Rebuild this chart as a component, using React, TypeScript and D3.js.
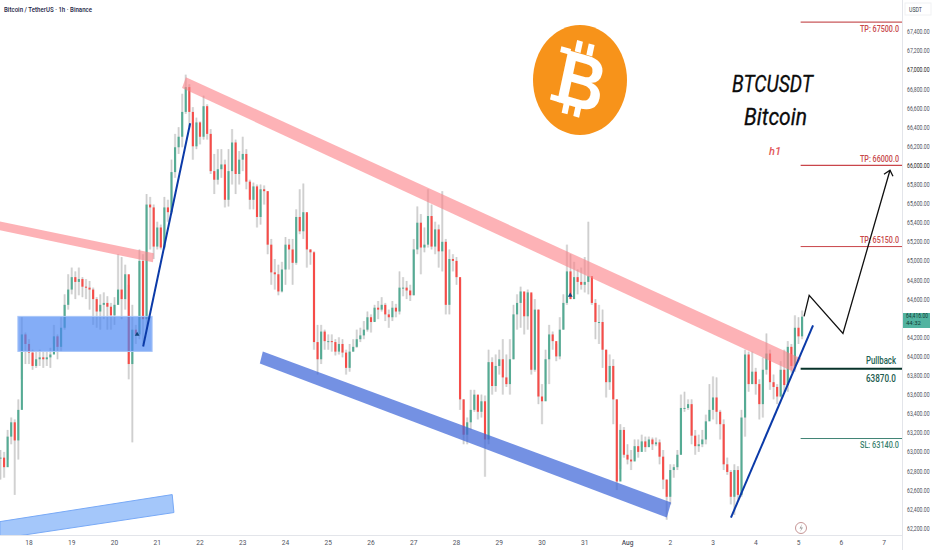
import React from "react";
import * as d3 from "d3";

const W = 932, H = 550, AXIS_X = 902, AXIS_Y = 535;

// 2-hour candles, first bar on Jul 17 08:00-ish (day number 18 - 16/24)
const closes = [
62940,62840,63160,63310,63120,63440,64230,64130,64040,63900,
63970,63990,63970,63990,64020,64210,64100,64300,64540,64700,
64830,64780,64810,64730,64720,64700,64600,64470,64540,64560,
64520,64430,64540,64700,64600,64860,63920,64280,64230,65000,
64390,65590,65560,65150,65350,65140,65560,65510,65930,66190,
66300,66560,66820,66560,66200,66450,66300,66620,66330,65940,
65850,65960,66010,65640,65940,66240,65910,66060,66120,65830,
65640,65780,65460,65750,65730,65170,64880,64860,64680,64910,
65170,65120,64980,65460,65310,65510,65120,65090,64150,63970,
64260,64160,64160,64150,64050,64130,64040,63880,64050,64100,
64180,64220,64280,64410,64360,64510,64490,64540,64440,64410,
64510,64470,64720,64720,64690,64640,65120,65400,65140,65170,
65470,65150,65330,65100,65200,64540,65020,65000,64830,63550,
63180,63310,63440,63600,63420,63530,63130,63940,63690,63900,
63970,63780,63710,63970,64440,64560,64680,64420,64670,63860,
64490,63580,63530,63970,64230,64160,64000,64280,64560,64890,
64600,64830,64780,64750,64780,64840,64560,64360,64360,64070,
63730,63900,63550,62690,63230,62970,62920,62900,63060,63000,
63110,63050,63130,63080,63100,62950,62710,62530,62810,62840,
62970,63460,63460,63500,63170,63060,63080,63130,63320,63440,
63570,63420,63290,62870,62790,62530,62810,62550,63360,64020,
63710,63840,63710,63500,63860,64030,63730,63680,63580,63860,
63700,64100,63900,64300,64210,64416];

const highs = [
63020,63000,63230,63360,63340,63550,64410,64250,64180,64070,
64050,64070,64050,64050,64090,64330,64230,64410,64650,64860,
64930,64890,64930,64830,64810,64790,64720,64620,64650,64670,
64630,64560,64620,65070,65040,64960,64750,64540,64330,65120,
65070,65700,65670,65590,65410,65380,65670,65640,66060,66330,
66400,66750,66950,66850,66610,66500,66460,66730,66640,66380,
66120,66170,66170,66060,66170,66380,66270,66150,66300,66170,
65850,65820,65800,65800,65790,65730,65230,65020,64960,64990,
65250,65230,65230,65540,65750,65810,65490,65120,65100,64330,
64330,64280,64230,64230,64180,64200,64180,64070,64130,64180,
64280,64300,64370,64470,64440,64540,64580,64620,64560,64490,
64580,64550,64890,64830,64790,64750,65230,65570,65490,65350,
65750,65590,65410,65380,65730,65230,65120,65070,65040,64810,
63550,63360,63650,63650,63580,63600,63590,64070,63990,64020,
64070,64180,64020,64180,64540,64650,64730,64600,64700,64650,
64600,64490,63710,64070,64330,64260,64130,64410,64650,65170,
65070,64990,64910,64930,65040,65410,64840,64600,64540,64490,
64070,64020,63970,63550,63290,63260,63080,63020,63130,63130,
63180,63160,63160,63150,63150,63130,63020,62710,62870,62870,
63020,63600,63630,63550,63550,63230,63180,63230,63390,63710,
63790,63780,63440,63340,62940,62810,62870,62850,63440,64070,
64050,64050,63880,63760,63990,64240,64070,63810,63710,63950,
64070,64160,64130,64430,64410,64480];

const lows = [
62710,62730,62920,63080,62550,62920,63760,63920,63920,63860,
63880,63900,63880,63900,63880,64130,63970,64050,64280,64490,
64650,64600,64640,64620,64600,64490,64330,64300,64280,64390,
64280,64280,64330,64540,64390,64490,63760,63100,64130,64180,
64130,64280,65120,65020,65120,65120,65120,65410,65490,65870,
66120,66190,66540,66400,66060,66170,66220,66270,66270,65910,
65700,65800,65870,65560,65570,65800,65700,65800,65940,65750,
65540,65540,65350,65380,65590,65070,64750,64700,64640,64670,
64750,64910,64750,64960,65280,65230,64930,64960,64070,63810,
63920,64070,64070,64050,64010,64020,63990,63810,63840,64050,
64090,64150,64180,64260,64250,64370,64390,64470,64370,64300,
64370,64410,64440,64630,64600,64580,64640,65070,64860,65090,
65140,65120,65070,64930,64890,64440,64440,64890,64750,63440,
63080,63080,63230,63420,63340,63360,62740,63080,63600,63630,
63810,63600,63680,63600,63970,64280,64300,64230,64280,63810,
63840,63500,63290,63710,63710,64070,63950,63970,64280,64540,
64600,64680,64650,64700,64670,64650,64540,64180,64130,63880,
63570,63650,63290,62600,62820,62940,62870,62810,62920,62940,
63050,63000,63050,63020,63060,62870,62610,62290,62450,62730,
62810,62970,63420,63440,63080,62970,63000,63050,63080,63340,
63340,63290,63130,62810,62760,62450,62340,62500,62530,63160,
63630,63710,63600,63340,63360,63810,63650,63550,63500,63570,
63630,63630,63830,63840,64130,64180];

const firstDay = 18 - 16 / 24;
const barStep = 2 / 24;
const dayLabels = ["18","19","20","21","22","23","24","25","26","27","28","29","30","31","Aug","2","3","4","5","6","7"];
const priceTicks = d3.range(62200, 67401, 200).filter(p => p !== 64400);

const bandLong: [number, number][] = [[21.67,66924],[36.06,63979],[35.87,63842],[21.58,66810]];
const bandShort: [number, number][] = [[17.32,65414],[20.92,65079],[20.90,64985],[17.32,65320]];
const bandLower: [number, number][] = [[23.47,64052],[33.02,62470],[32.92,62312],[23.40,63926]];
const bandBottom: [number, number][] = [[17.32,62270],[21.35,62553],[21.39,62365],[17.32,62092]];
const zone = { d0: 17.74, d1: 20.88, p0: 64052, p1: 64419 };
const riseA: [number, number][] = [[20.67,64104],[21.77,66441]];
const riseB: [number, number][] = [[34.42,62312],[36.34,64325]];
const projection: [number, number][] = [[36.13,64419],[36.25,64639],[37.04,64241],[38.14,65949]];
const arrowHead: [number, number][] = [[38.0,65907],[38.14,65949],[38.21,65886]];
const markers: [number, number][] = [[20.53,64230],[30.66,64640]];
const levelStart = 36.05;
const levels = [
  { price: 67500, label: "TP: 67500.0", color: "#c9595b", w: 1.3, textColor: "#c8484a" },
  { price: 66000, label: "TP: 66000.0", color: "#c9454a", w: 1.3, textColor: "#c8484a" },
  { price: 65150, label: "TP: 65150.0", color: "#c9454a", w: 1, textColor: "#c8484a" },
  { price: 63140, label: "SL: 63140.0", color: "#3f8474", w: 1, textColor: "#3a7f6e" },
];
const pullback = 63870;
const lastPrice = 64416;

const GREEN = "#55ab94", RED = "#f64c48";
const FONT = "Roboto, 'Liberation Sans', sans-serif";

export default function App() {
  const x = d3.scaleLinear().domain([18, 25]).range([29, 29 + 7 * 42.75]);
  const y = d3.scaleLinear().domain([62200, 67400]).range([528.3, 31.7]);
  const pts = (a: [number, number][]) => a.map(([d, p]) => `${x(d)},${y(p)}`).join(" ");
  const line = d3.line<[number, number]>().x(d => x(d[0])).y(d => y(d[1]));
  const tri = d3.symbol().type(d3.symbolTriangle).size(10)() as string;
  const bw = 2.1;

  return (
    <svg width={W} height={H} viewBox={`0 0 ${W} ${H}`} style={{ position: "absolute", left: 0, top: 0, display: "block", background: "#fff" }}>
      <defs>
        <clipPath id="pane"><rect x={0} y={0} width={AXIS_X} height={AXIS_Y} /></clipPath>
      </defs>

      <g clipPath="url(#pane)">
        {closes.map((c, i) => {
          const cx = x(firstDay + i * barStep);
          return <line key={i} x1={cx} x2={cx} y1={y(highs[i]) } y2={y(lows[i])} stroke="#e4e4e4" strokeWidth={2.4} />;
        })}
        {closes.map((c, i) => {
          const cx = x(firstDay + i * barStep);
          return <line key={i} x1={cx} x2={cx} y1={y(highs[i])} y2={y(lows[i])} stroke="#bababa" strokeWidth={0.6} />;
        })}
        {closes.map((c, i) => {
          const o = i === 0 ? c : closes[i - 1];
          const cx = x(firstDay + i * barStep);
          const top = y(Math.max(o, c)), bot = y(Math.min(o, c));
          return <rect key={i} x={cx - bw / 2} y={top} width={bw} height={Math.max(1, bot - top)} fill={c >= o ? GREEN : RED} />;
        })}

        <polygon points={pts(bandLong)} fill="#fb7f86" fillOpacity={0.6} />
        <polygon points={pts(bandShort)} fill="#fb7f86" fillOpacity={0.6} />
        <rect x={x(zone.d0)} y={y(zone.p1)} width={x(zone.d1) - x(zone.d0)} height={y(zone.p0) - y(zone.p1)} fill="#4a86f3" fillOpacity={0.68} stroke="#a9c6f8" strokeWidth={1} />
        <polygon points={pts(bandLower)} fill="#3f66d8" fillOpacity={0.72} />
        <polygon points={pts(bandBottom)} fill="#a4c7fa" stroke="#78a9f6" strokeWidth={1} />

        <path d={line(riseA) as string} fill="none" stroke="#0b3aa8" strokeWidth={2} />
        <path d={line(riseB) as string} fill="none" stroke="#0b3aa8" strokeWidth={2} />
        {markers.map(([d, p], i) => (
          <path key={i} d={tri} transform={`translate(${x(d)},${y(p)})`} fill="#12457a" />
        ))}

        {levels.map(l => (
          <g key={l.label}>
            <line x1={x(levelStart)} x2={AXIS_X} y1={y(l.price)} y2={y(l.price)} stroke={l.color} strokeWidth={l.w} />
            <text x={860} y={y(l.price) + (l.label.startsWith("SL") ? 9.5 : l.price === 67500 ? 9.5 : -3.5)} textLength={39} lengthAdjust="spacingAndGlyphs" fontFamily={FONT} fontSize={9} fontWeight={500} fill={l.textColor}>{l.label}</text>
          </g>
        ))}
        <line x1={x(levelStart)} x2={AXIS_X} y1={y(pullback)} y2={y(pullback)} stroke="#07332a" strokeWidth={2} />
        <text x={866} y={364} textLength={30} lengthAdjust="spacingAndGlyphs" fontFamily={FONT} fontSize={10.5} fontWeight={500} fill="#1c6253">Pullback</text>
        <text x={866} y={382} textLength={30} lengthAdjust="spacingAndGlyphs" fontFamily={FONT} fontSize={10.5} fontWeight={500} fill="#1c5c4e">{pullback + ".0"}</text>

        <path d={line(projection) as string} fill="none" stroke="#101010" strokeWidth={1.3} />
        <path d={line(arrowHead) as string} fill="none" stroke="#101010" strokeWidth={1.3} />
      </g>

      {/* Bitcoin logo */}
      <g transform="translate(580,80) scale(1,1.17)">
        <circle r={47} fill="#f7931a" />
        <g transform="translate(2,0) rotate(14)" fill="#fff">
          <text x={0} y={24} textAnchor="middle" fontFamily="'Liberation Sans', Arial, sans-serif" fontWeight={700} fontSize={66}>B</text>
          <rect x={-13} y={-32} width={6} height={10} />
          <rect x={-1} y={-32} width={6} height={10} />
          <rect x={-13} y={22} width={6} height={10} />
          <rect x={-1} y={22} width={6} height={10} />
          <rect x={-27} y={-23} width={10} height={5} />
          <rect x={-27} y={19} width={10} height={5} />
        </g>
      </g>

      <text x={732} y={92} textLength={81} lengthAdjust="spacingAndGlyphs" fontFamily={FONT} fontStyle="italic" fontSize={24} fontWeight={400} fill="#0c0c0c" stroke="#0c0c0c" strokeWidth={0.3}>BTCUSDT</text>
      <text x={744} y={125} textLength={63} lengthAdjust="spacingAndGlyphs" fontFamily={FONT} fontStyle="italic" fontSize={24} fontWeight={400} fill="#0c0c0c" stroke="#0c0c0c" strokeWidth={0.3}>Bitcoin</text>
      <text x={775} y={155} textAnchor="middle" fontFamily={FONT} fontStyle="italic" fontSize={11} fontWeight={500} fill="#e2585a">h1</text>

      <text x={4} y={12} textLength={88} lengthAdjust="spacingAndGlyphs" fontFamily={FONT} fontSize={7.6} fontWeight={500} fill="#1d2545">Bitcoin / TetherUS · 1h · Binance</text>

      {/* axes */}
      <line x1={AXIS_X + 0.5} x2={AXIS_X + 0.5} y1={0} y2={H} stroke="#e3e5ea" />
      <line x1={0} x2={AXIS_X} y1={AXIS_Y + 0.5} y2={AXIS_Y + 0.5} stroke="#e3e5ea" />
      <rect x={905} y={3} width={26} height={12} fill="#fff" stroke="#f0f1f3" />
      <text x={909} y={12} textLength={13} lengthAdjust="spacingAndGlyphs" fontFamily={FONT} fontSize={6.8} fill="#333a4a">USDT</text>
      {priceTicks.map(p => (
        <text key={p} transform={`translate(907,${y(p) + 2.5}) scale(0.76,1)`} fontFamily={FONT} fontSize={6.8} fill={p === 67000 || p === 66000 ? "#222" : "#50535e"}>
          {d3.format(",.2f")(p)}
        </text>
      ))}
      <rect x={903} y={313} width={27} height={15} fill="#52b3a0" />
      <text transform={`translate(906,${y(lastPrice) + 1}) scale(0.76,1)`} fontFamily={FONT} fontSize={6.6} fill="#123c34">{d3.format(",.2f")(lastPrice)}</text>
      <text x={906} y={y(lastPrice) + 8} fontFamily={FONT} fontSize={6} fill="#123c34">44:32</text>

      {dayLabels.map((d, i) => (
        <text key={d} x={x(18 + i)} y={544.5} textAnchor="middle" fontFamily={FONT} fontSize={6.6} fontWeight={d === "Aug" ? 500 : 400} fill="#50535e">{d}</text>
      ))}

      <circle cx={801} cy={528} r={5.5} fill="#fff" stroke="#c08a8a" strokeWidth={0.9} />
      <path d="M802 524 L799.5 528.5 L801.5 528.5 L800 532 L803 527.5 L801 527.5 Z" fill="#9a9a9a" />
    </svg>
  );
}
